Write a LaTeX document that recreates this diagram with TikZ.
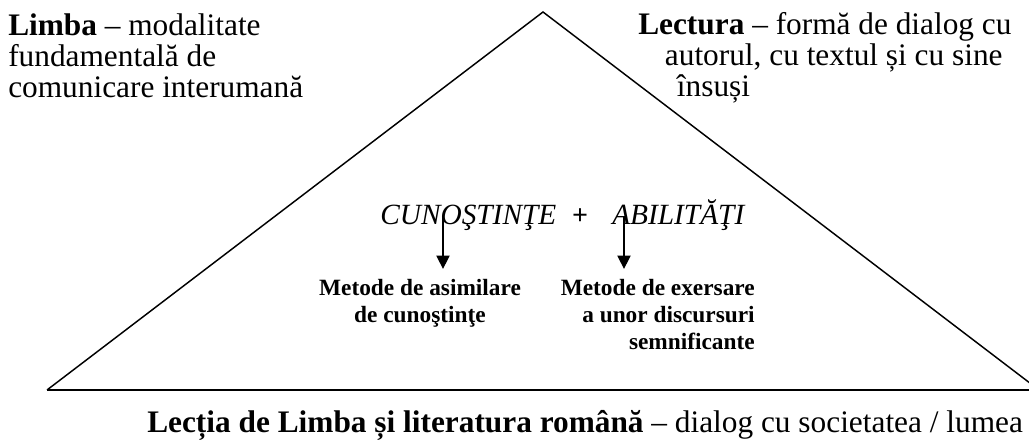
\documentclass[tikz,border=0pt]{standalone}
\usepackage{fontspec}
\setmainfont{Liberation Serif}
\usetikzlibrary{arrows.meta}
\begin{document}
\begin{tikzpicture}[x=0.75pt,y=-0.75pt,
  txt/.style={inner sep=0pt,align=left,font=\fontsize{23.5}{23.25}\selectfont},
  key/.style={inner sep=0pt,font=\fontsize{22}{24}\selectfont\itshape},
  met/.style={inner sep=0pt,font=\fontsize{17.5}{20.25}\selectfont\bfseries},
  down/.style={-{Triangle[width=10pt,length=10pt]},line width=1pt,shorten >=8pt}]
\useasboundingbox (0,0) rectangle (1029,448);
% triangle
\coordinate (apex) at (543,12);
\coordinate (lc) at (47,390);
\coordinate (rc) at (1039,390);
\draw[line width=1.1pt] (lc) -- (apex) -- (rc);
\draw[line width=1.4pt] (lc) -- (rc);

% top corners (base = last line)
\node[txt,anchor=base west] (limba) at (8,98)
  {\textbf{Limba} – modalitate\\fundamentală de\\comunicare interumană};
\node[txt,anchor=base west] (lectura) at (638,97)
  {\textbf{Lectura} – formă de dialog cu\\\hspace*{20pt}autorul, cu textul și cu sine\\\hspace*{29pt}însuși};

% middle
\node[key,anchor=base west] (cun) at (380,225) {CUNOŞTINŢE};
\node[txt,anchor=base,font=\fontsize{21}{24}\selectfont\bfseries] (plus) at (580,225) {+};
\node[key,anchor=base west] (abil) at (612,225) {ABILITĂŢI};
\node[met,align=center,anchor=base] (metA) at (420,323) {Metode de asimilare\\de cunoştinţe};
\node[met,align=right,anchor=base east] (metB) at (755,350) {Metode de exersare\\a unor discursuri\\semnificante};
\coordinate (a1) at (443,217);
\coordinate (a2) at (624,217);
\draw[down] (a1) -- (a1 |- metA.north);
\draw[down] (a2) -- (a2 |- metB.north);

% bottom
\node[txt,anchor=base west] (lectia) at (147,433)
  {\textbf{Lecția de Limba și literatura română} – dialog cu societatea / lumea};
\end{tikzpicture}
\end{document}
